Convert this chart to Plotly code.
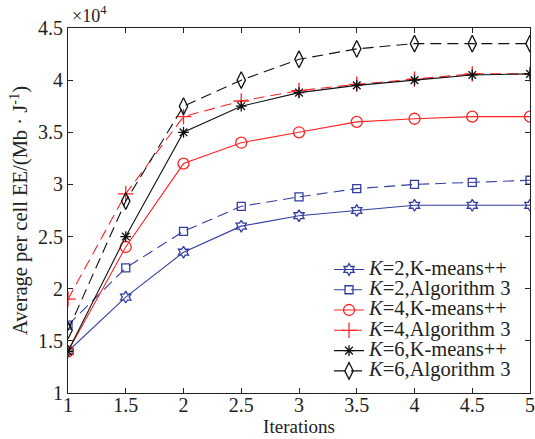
import plotly.graph_objects as go

iterations = [1, 1.5, 2, 2.5, 3, 3.5, 4, 4.5, 5]
k2_kmeans = [1.40, 1.92, 2.35, 2.60, 2.70, 2.75, 2.80, 2.80, 2.80]
k2_alg3 = [1.65, 2.20, 2.55, 2.79, 2.88, 2.96, 3.00, 3.02, 3.04]
k4_kmeans = [1.40, 2.40, 3.20, 3.40, 3.50, 3.60, 3.63, 3.65, 3.65]
k4_alg3 = [1.90, 2.91, 3.65, 3.80, 3.90, 3.96, 4.01, 4.06, 4.06]
k6_kmeans = [1.40, 2.50, 3.50, 3.75, 3.88, 3.95, 4.00, 4.05, 4.06]
k6_alg3 = [1.60, 2.84, 3.75, 4.00, 4.20, 4.30, 4.35, 4.35, 4.35]

x_ticks = [1, 1.5, 2, 2.5, 3, 3.5, 4, 4.5, 5]
y_ticks = [1, 1.5, 2, 2.5, 3, 3.5, 4, 4.5]

names = ["<i>K</i>=2,K-means++", "<i>K</i>=2,Algorithm 3",
         "<i>K</i>=4,K-means++", "<i>K</i>=4,Algorithm 3",
         "<i>K</i>=6,K-means++", "<i>K</i>=6,Algorithm 3"]

BLUE = "#333da0"
RED = "#ff2424"
BLACK = "#111111"
DASH = "11px,6px"

series = [
    (k2_kmeans, BLUE, "solid", "hexagram-open", 9),
    (k2_alg3, BLUE, DASH, "square-open", 8),
    (k4_kmeans, RED, "solid", "circle-open", 11),
    (k4_alg3, RED, DASH, "cross-thin-open", 11),
    (k6_kmeans, BLACK, "solid", "asterisk-open", 9),
    (k6_alg3, BLACK, DASH, "diamond-tall-open", 12),
]

FONT = "Liberation Serif"

fig = go.Figure()
for (vals, col, dash, sym, sz), nm in zip(series, names):
    fig.add_trace(go.Scatter(
        x=iterations, y=vals,
        name='<span style="font-size:20.5px">' + nm + '</span>',
        mode="lines+markers",
        line=dict(color=col, width=1.1, dash=dash),
        marker=dict(symbol=sym, size=sz, color=col, line=dict(color=col, width=1.3)),
    ))

axis_common = dict(showline=True, linecolor="#222", linewidth=1, mirror="ticks",
                   ticks="inside", ticklen=5, tickcolor="#222", showgrid=False,
                   zeroline=False, automargin=False,
                   tickfont=dict(size=20, color="#222", family=FONT))

fig.update_layout(
    width=535, height=439,
    margin=dict(l=68, r=5, t=28, b=46),
    paper_bgcolor="white", plot_bgcolor="white",
    font=dict(family=FONT, color="#222", size=16),
    showlegend=True,
    legend=dict(x=0.565, y=0.38, xanchor="left", yanchor="top",
                bgcolor="rgba(255,255,255,0)", borderwidth=0,
                font=dict(size=13.3, family=FONT, color="#222"), tracegroupgap=0),
    xaxis=dict(range=[1, 5], tickvals=x_ticks,
               ticktext=[f"{v:g}" for v in x_ticks],
               ticklabelstandoff=-6,
               title=dict(text="Iterations", font=dict(size=19, family=FONT), standoff=4),
               **axis_common),
    yaxis=dict(range=[1, 4.5], tickvals=y_ticks,
               ticktext=[f"{v:g}" for v in y_ticks],
               title=dict(text="Average per cell EE/(Mb · J<sup>-1</sup>)",
                          font=dict(size=20.5, family=FONT), standoff=4),
               **axis_common),
    annotations=[dict(text="×10<sup>4</sup>", x=0, y=1.0, xref="paper", yref="paper",
                      xanchor="left", yanchor="bottom", showarrow=False,
                      font=dict(size=18, family=FONT, color="#222"), xshift=2, yshift=0)],
)

fig.write_html("out.html")
